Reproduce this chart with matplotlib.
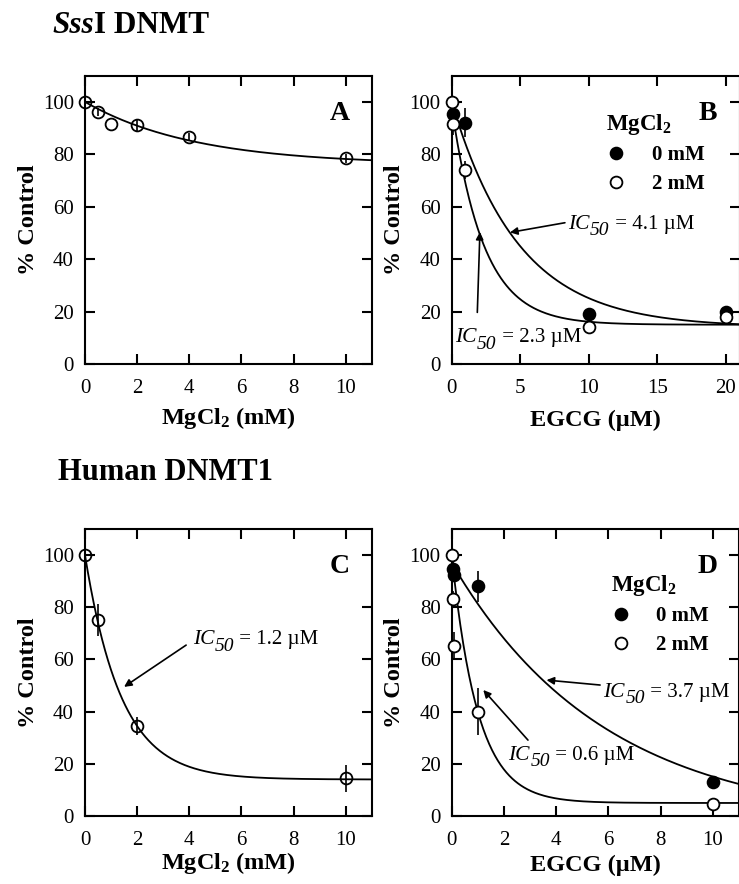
import numpy as np
import matplotlib
matplotlib.use("Agg")
import matplotlib.pyplot as plt

plt.rcParams["font.family"] = ["Liberation Serif", "DejaVu Serif"]
plt.rcParams["mathtext.fontset"] = "custom"
plt.rcParams["mathtext.rm"] = "Liberation Serif"
plt.rcParams["mathtext.it"] = "Liberation Serif:italic"
plt.rcParams["mathtext.bf"] = "Liberation Serif:bold"

# ---- data ----
# A: SssI DNMT vs MgCl2 (mM)
a_x = [0, 0.5, 1, 2, 4, 10]
a_y = [100, 96, 91.5, 91, 86.5, 78.5]
a_err = [0, 1.5, 0, 2, 1.5, 1.8]
a_fit = (76, 100, 4.2)            # bottom, top, decay constant

# B: SssI DNMT vs EGCG (uM), 0 mM / 2 mM MgCl2
b0_x = [0.12, 1, 10, 20]
b0_y = [95.5, 92, 19, 19.8]
b0_err = [4, 5.5, 0, 0]
b2_x = [0, 0.07, 1, 10, 20]
b2_y = [100, 91.5, 74, 14.2, 17.8]
b2_err = [0, 4, 3.5, 0, 0]
b0_fit = (14, 100, 4.89)
b2_fit = (15, 98, 2.33)

# C: human DNMT1 vs MgCl2 (mM)
c_x = [0, 0.5, 2, 10]
c_y = [100, 75, 34.5, 14.5]
c_err = [0, 6.2, 3.4, 5.2]
c_fit = (14, 100, 1.394)

# D: human DNMT1 vs EGCG (uM)
d0_x = [0.05, 0.1, 1, 10]
d0_y = [94.5, 92.5, 88, 13.2]
d0_err = [5, 0, 6, 0]
d2_x = [0, 0.05, 0.1, 1, 10]
d2_y = [100, 83, 65, 40, 4.5]
d2_err = [0, 3.4, 5.4, 9, 0]
d0_fit = (-3, 97, 5.85)
d2_fit = (5, 100, 1.0)

W, H = 739, 884
fig = plt.figure(figsize=(W / 100, H / 100), dpi=100)


def frame(rect, xmax, xticks, xlabel, letter, xpad):
    ax = fig.add_axes(rect)
    ax.set_xlim(0, xmax)
    ax.set_ylim(0, 110)
    ax.set_xticks(xticks)
    ax.set_yticks(range(0, 101, 20))
    ax.tick_params(direction="in", top=True, right=True, length=7, width=1.5,
                   labelsize=15)
    ax.tick_params(axis="x", pad=11)
    ax.tick_params(axis="y", pad=8)
    for s in ax.spines.values():
        s.set_linewidth(1.5)
    ax.set_xlabel(xlabel, fontsize=17.5, fontweight="bold", labelpad=xpad)
    ax.set_ylabel("% Control", fontsize=17.5, fontweight="bold", labelpad=3)
    ax.text(0.89, 0.87, letter, transform=ax.transAxes, fontsize=20,
            fontweight="bold", ha="center", va="center")
    return ax


def curve(ax, fit, xmax):
    b, t, k = fit
    xs = np.linspace(0, xmax, 300)
    ax.plot(xs, b + (t - b) * np.exp(-xs / k), color="black", lw=1.3, zorder=2)


def points(ax, x, y, err, filled):
    ax.errorbar(x, y, yerr=err, fmt="none", ecolor="black", elinewidth=1.2,
                capsize=0, zorder=3)
    fc = "black" if filled else "white"
    return ax.plot(x, y, "o", ms=8.5, mfc=fc, mec="black", mew=1.3, zorder=4,
                   clip_on=False)[0]


def ic50(ax, label, text_xy, start, tip):
    t_ic = ax.text(text_xy[0], text_xy[1], "IC", fontsize=15.5, style="italic",
                   ha="left", va="baseline")
    t_50 = ax.annotate("50", xy=(1, 0), xycoords=t_ic, xytext=(0.5, -4),
                       textcoords="offset points", fontsize=14, style="italic",
                       ha="left", va="bottom")
    ax.annotate(" = " + label, xy=(1, 0), xycoords=(t_50, t_ic), fontsize=15,
                ha="left", va="bottom")
    ax.annotate("", xy=tip, xytext=start,
                arrowprops=dict(arrowstyle="-|>", color="black", lw=1.2,
                                mutation_scale=11, shrinkA=0, shrinkB=0))


def mg_legend(ax, h0, h2, anchor):
    leg = ax.legend([h0, h2], ["0 mM", "2 mM"], title=r"MgCl$_\mathbf{2}$",
                    loc="upper left", bbox_to_anchor=anchor, frameon=False,
                    borderpad=0, borderaxespad=0, handlelength=1.0,
                    handletextpad=1.2, labelspacing=0.42,
                    prop=dict(weight="bold", size=15), alignment="left")
    leg.get_title().set_fontsize(16.5)
    leg.get_title().set_fontweight("bold")


xl_mg = r"MgCl$_\mathbf{2}$ (mM)"
xl_eg = "EGCG (\u00b5M)"

# Panel A
axA = frame([0.115, 0.5882, 0.388, 0.3262], 11, range(0, 11, 2), xl_mg, "A", 4.5)
curve(axA, a_fit, 11)
points(axA, a_x, a_y, a_err, False).set_mfc("none")

# Panel B
axB = frame([0.6112, 0.5882, 0.3896, 0.3262], 21, range(0, 21, 5), xl_eg, "B", 8)
curve(axB, b0_fit, 21)
curve(axB, b2_fit, 21)
hb0 = points(axB, b0_x, b0_y, b0_err, True)
hb2 = points(axB, b2_x, b2_y, b2_err, False)
ic50(axB, "4.1 \u00b5M", (8.48, 51.7), (8.26, 53.9), (4.25, 50.2))
ic50(axB, "2.3 \u00b5M", (0.24, 8.3), (1.87, 19.7), (2.06, 50.4))
mg_legend(axB, hb0, hb2, (0.536, 0.875))

# Panel C
axC = frame([0.115, 0.0769, 0.388, 0.3247], 11, range(0, 11, 2), xl_mg, "C", 0)
curve(axC, c_fit, 11)
points(axC, c_x, c_y, c_err, False).set_mfc("none")
ic50(axC, "1.2 \u00b5M", (4.13, 65.9), (3.88, 65.5), (1.5, 49.5))

# Panel D
axD = frame([0.6112, 0.0769, 0.3889, 0.3247], 11, range(0, 11, 2), xl_eg, "D", 3)
curve(axD, d0_fit, 11)
curve(axD, d2_fit, 11)
hd0 = points(axD, d0_x, d0_y, d0_err, True)
hd2 = points(axD, d2_x, d2_y, d2_err, False)
ic50(axD, "3.7 \u00b5M", (5.8, 45.7), (5.68, 50.2), (3.63, 52.1))
ic50(axD, "0.6 \u00b5M", (2.17, 21.5), (2.92, 29.1), (1.21, 48.3))
mg_legend(axD, hd0, hd2, (0.553, 0.848))

# section titles
t1 = fig.text(52 / W, 1 - 33 / H, "Sss", fontsize=22.5, fontweight="bold",
              style="italic", ha="left", va="baseline")
axA.annotate("I DNMT", xy=(1, 0), xycoords=t1, fontsize=22.5, fontweight="bold",
             ha="left", va="bottom", annotation_clip=False)
fig.text(58 / W, 1 - 480 / H, "Human DNMT1", fontsize=22, fontweight="bold",
         ha="left", va="baseline")

fig.savefig("out.png", dpi=100)
